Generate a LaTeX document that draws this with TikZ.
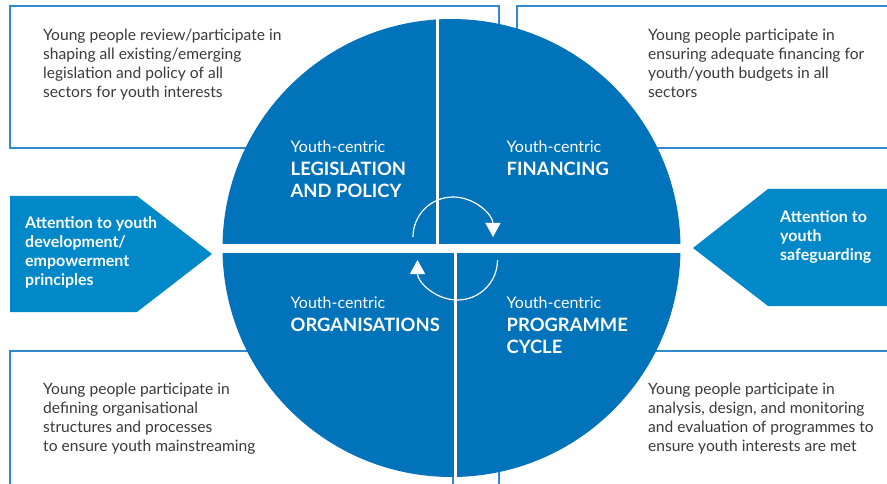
\documentclass[tikz,border=0pt]{standalone}
\usepackage{fontspec}
\setmainfont{Lato}
\usetikzlibrary{arrows.meta}
\definecolor{circblue}{HTML}{0073BA}
\definecolor{pentblue}{HTML}{0088C9}
\definecolor{boxblue}{HTML}{2F8AD0}
\definecolor{bodygrey}{HTML}{3A3A3A}
\tikzset{
  infobox/.style={draw=boxblue, line width=1.3pt, fill=white},
  bodytext/.style={anchor=base west, inner sep=0pt, align=left, text=bodygrey,
    font=\fontsize{15.6}{18.9}\selectfont},
  penttext/.style={anchor=base west, inner sep=0pt, align=left, text=white,
    font=\fontsize{16}{19}\selectfont\bfseries},
  quadsmall/.style={anchor=base west, inner sep=0pt, text=white,
    font=\fontsize{16}{18}\selectfont},
  quadbig/.style={anchor=base west, inner sep=0pt, align=left, text=white,
    font=\fontsize{18.4}{22.2}\selectfont\bfseries},
  cyclearrow/.style={draw=white, line width=1.2pt, -{Triangle[width=15pt,length=14pt]}},
}
\begin{document}
\begin{tikzpicture}[x=1pt,y=-1pt]
\useasboundingbox (0,0) rectangle (887,484);
% boxes
\draw[infobox] (10,6) rectangle (499,148);
\draw[infobox] (517,6) rectangle (895,148);
\draw[infobox] (10,351) rectangle (453,495);
\draw[infobox] (499,351) rectangle (895,495);
% pentagons
\fill[pentblue] (10,196) -- (137,196) -- (212,254) -- (137,312) -- (10,312) -- cycle;
\fill[pentblue] (693,248) -- (768,189) -- (890,189) -- (890,306) -- (768,306) -- cycle;
% circle
\node[circle, fill=circblue, minimum size=458pt, inner sep=0pt] (wheel) at (451.5,248) {};
\fill[white] (215,244) rectangle (688,252.5);
\fill[white] (436,15) rectangle (439.3,244);
\fill[white] (454.3,252) rectangle (456.8,482);
% cycle arrows
\coordinate (ua) at (413,237);
\coordinate (la) at (497.5,260);
\draw[cyclearrow] (ua) arc[start angle=180, end angle=360, radius=40];
\draw[cyclearrow] (la) arc[start angle=0, end angle=180, radius=40];
% box texts (anchor = baseline of last line)
\node[bodytext] (tltext) at (43,97.7) {Young people review/participate in\\shaping all existing/emerging\\legislation and policy of all\\sectors for youth interests};
\node[bodytext] (trtext) at (648,97.7) {Young people participate in\\ensuring adequate financing for\\youth/youth budgets in all\\sectors};
\node[bodytext] (bltext) at (43,451.5) {Young people participate in\\defining organisational\\structures and processes\\to ensure youth mainstreaming};
\node[bodytext] (brtext) at (648,451) {Young people participate in\\analysis, design, and monitoring\\and evaluation of programmes to\\ensure youth interests are met};
% pentagon texts
\node[penttext] (lptext) at (25,285) {Attention to youth\\development/\\empowerment\\principles};
\node[penttext] (rptext) at (780,260) {Attention to\\youth\\safeguarding};
% quadrant texts
\node[quadsmall] (q1s) at (290.5,152.3) {Youth-centric};
\node[quadbig] (q1b) at (290.5,197.3) {LEGISLATION\\AND POLICY};
\node[quadsmall] (q2s) at (506.5,152.3) {Youth-centric};
\node[quadbig] (q2b) at (506.5,175.5) {FINANCING};
\node[quadsmall] (q3s) at (290.5,308.3) {Youth-centric};
\node[quadbig] (q3b) at (290.5,331) {ORGANISATIONS};
\node[quadsmall] (q4s) at (506.5,308.3) {Youth-centric};
\node[quadbig] (q4b) at (506.5,353.3) {PROGRAMME\\CYCLE};
\end{tikzpicture}
\end{document}
